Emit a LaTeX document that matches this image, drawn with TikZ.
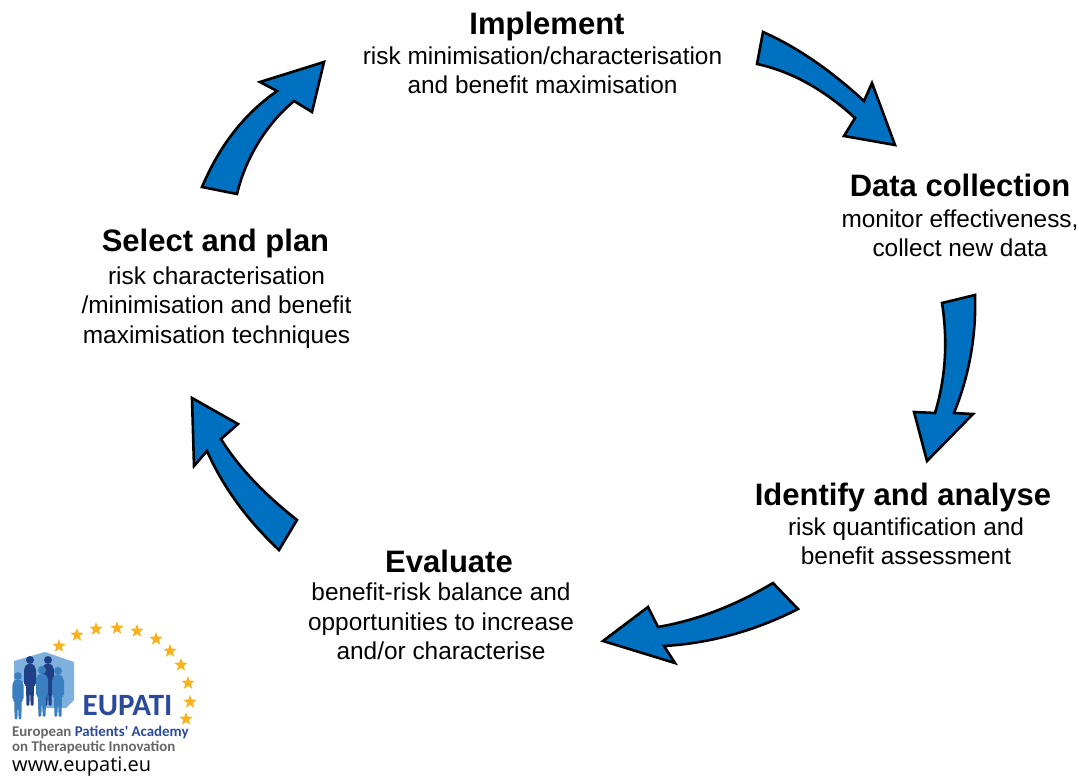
\documentclass[tikz,border=0pt]{standalone}
\usepackage{fontspec}
\setmainfont{Liberation Sans}
\newfontfamily\logofont{Carlito}
\newfontfamily\urlfont{Open Sans}
\usetikzlibrary{shapes.geometric}
\definecolor{arrowblue}{HTML}{0070C0}
\definecolor{logonavy}{HTML}{2B4A9B}
\definecolor{logodark}{HTML}{1F3F86}
\definecolor{logomid}{HTML}{3A7FBF}
\definecolor{logopale}{HTML}{7FB0DE}
\definecolor{logogrey}{HTML}{666666}
\definecolor{logostar}{HTML}{F9B21D}
\tikzset{
    heading/.style={font=\fontsize{31}{34}\selectfont\bfseries, inner sep=0pt, anchor=base},
    subtext/.style={font=\fontsize{24.4}{29.5}\selectfont, align=center, inner sep=0pt},
    blockarrow/.style={draw=black, fill=arrowblue, line width=2.6pt, line join=miter},
    eustar/.style={star, star points=5, star point ratio=2.4, fill=logostar, minimum size=14pt, inner sep=0pt},
    logotext/.style={font=\logofont\bfseries\fontsize{14.9}{18}\selectfont, inner sep=0pt, anchor=west},
}
\newcommand{\eupatiperson}[4]{%
    \begin{scope}[shift={(#1,#2)}, scale=#3]
        \fill[#4] (0,0) circle (4);
        \fill[#4, rounded corners=1.5pt] (-3.5,4) -- (3.5,4) -- (6,9) -- (6,25) -- (4,25) -- (3.5,46)
            -- (0.7,46) -- (0,29) -- (-0.7,46) -- (-3.5,46) -- (-4,25) -- (-6,25) -- (-6,9) -- cycle;
    \end{scope}}
\begin{document}
\begin{tikzpicture}[x=1pt, y=-1pt]
    \useasboundingbox (0,0) rectangle (1079,776);
    % labels
    \node[heading] (implement) at (547,35) {Implement};
    \node[subtext] (implement_sub) at (542.5,70.5) {risk minimisation/characterisation\\and benefit maximisation};
    \node[heading] (collection) at (960,196) {Data collection};
    \node[subtext] (collection_sub) at (960,233.5) {monitor effectiveness,\\collect new data};
    \node[heading] (identify) at (903,505) {Identify and analyse};
    \node[subtext] (identify_sub) at (906,541.5) {risk quantification and\\benefit assessment};
    \node[heading] (evaluate) at (449,572) {Evaluate};
    \node[subtext] (evaluate_sub) at (441,621.5) {benefit-risk balance and\\opportunities to increase\\and/or characterise};
    \node[heading] (select) at (215.5,251) {Select and plan};
    \node[subtext] (select_sub) at (216.5,307.5) {risk characterisation\\/minimisation and benefit\\maximisation techniques};
    % arrows
    \draw[blockarrow] (763,32) .. controls (796.3,46.7) and (830,69.7) .. (864,101) -- (872,83) -- (895,145) -- (844,136)
        -- (855,118) .. controls (823.7,89.3) and (791,71.3) .. (757,64) -- cycle;
    \draw[blockarrow] (975,295) .. controls (976.3,335.7) and (969.3,375) .. (954,413) -- (973,414) -- (927,461) -- (914,412)
        -- (935,413) .. controls (945.7,377.7) and (948,341) .. (942,303) -- cycle;
    \draw[blockarrow] (798,609) .. controls (754.7,631) and (710,643.3) .. (664,646) -- (675,663) -- (603,641) -- (648,607)
        -- (658,627) .. controls (696.7,620.3) and (735,605.7) .. (773,583) -- cycle;
    \draw[blockarrow] (279,550) .. controls (247,520) and (223,487) .. (207,451) -- (194,466) -- (192,398) -- (238,424)
        -- (221,439) .. controls (238.3,467) and (263.7,493.7) .. (297,520) -- cycle;
    \draw[blockarrow] (202,187) .. controls (220.7,143) and (245.7,113) .. (277,91) -- (260,82) -- (324,62) -- (312,112)
        -- (294,101) .. controls (264.7,125.7) and (245,160) .. (237,194) -- cycle;
    % logo
    \fill[logopale] (14,661) -- (45,652) -- (74,662) -- (74,700) -- (66,708) -- (42,708) -- (42,682) -- (14,682) -- cycle;
    \eupatiperson{30}{660}{1.0}{logodark}
    \eupatiperson{48}{660}{1.0}{logodark}
    \eupatiperson{18}{676}{0.95}{logomid}
    \eupatiperson{42}{670}{1.02}{logomid}
    \eupatiperson{58}{671}{1.0}{logomid}
    \foreach \sx/\sy [count=\i] in {59/646, 77/635, 96/629, 117/628, 137/631, 156/639, 170/651, 181/665, 188/683, 190/702, 186/719}
        \node[eustar] (star\i) at (\sx,\sy) {};
    \node[font=\logofont\bfseries\fontsize{31}{34}\selectfont, text=logonavy, inner sep=0pt] (eupati) at (127.5,706) {EUPATI};
    \node[logotext] (academy) at (12,732) {\textcolor{logogrey}{European} \textcolor{logonavy}{Patients' Academy}};
    \node[logotext, text=logogrey] (innovation) at (12,747) {on Therapeutic Innovation};
    \node[font=\urlfont\fontsize{20}{22}\selectfont, inner sep=0pt, anchor=west] (url) at (12,767) {www.eupati.eu};
\end{tikzpicture}
\end{document}
